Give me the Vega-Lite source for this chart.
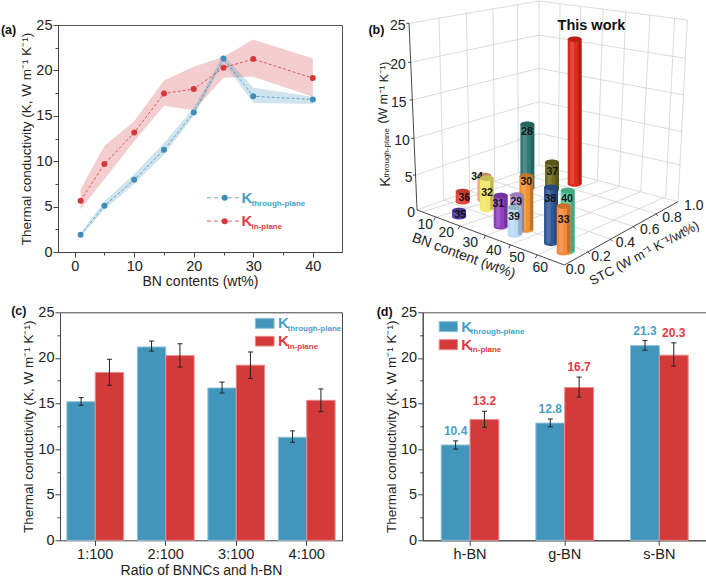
{
"$schema":"https://vega.github.io/schema/vega-lite/v6.json",
"columns":2,"spacing":{"row":59.3,"column":80.7},"bounds":"flush","background":"white",
"padding":{"left":0,"top":0,"right":0,"bottom":0},
"config":{"font":"Liberation Sans","view":{"stroke":null},"axis":{"grid":false,"labelColor":"#222","titleColor":"#222","domainColor":"#444","tickColor":"#444","titleFontWeight":"normal"}},
"datasets":{
"a":[
{"s":"in","x":1,"y":5.65,"lo":4.7,"hi":6.9},{"s":"in","x":5,"y":9.7,"lo":8,"hi":11.7},{"s":"in","x":10,"y":13.15,"lo":12.2,"hi":14.4},{"s":"in","x":15,"y":17.45,"lo":16.1,"hi":18.9},{"s":"in","x":20,"y":17.95,"lo":15.6,"hi":20.4},{"s":"in","x":25,"y":20.3,"lo":19.2,"hi":21.5},{"s":"in","x":30,"y":21.25,"lo":19.3,"hi":23.4},{"s":"in","x":40,"y":19.15,"lo":17.1,"hi":21.3},
{"s":"through","x":1,"y":1.9,"lo":1.7,"hi":2.1},{"s":"through","x":5,"y":5.1,"lo":4.7,"hi":5.6},{"s":"through","x":10,"y":7.95,"lo":7.5,"hi":8.6},{"s":"through","x":15,"y":11.25,"lo":10.7,"hi":12},{"s":"through","x":20,"y":15.35,"lo":15,"hi":15.9},{"s":"through","x":25,"y":21.3,"lo":20.9,"hi":21.7},{"s":"through","x":30,"y":17.15,"lo":16.4,"hi":18.1},{"s":"through","x":40,"y":16.8,"lo":16.3,"hi":17.1}],
"c":[
{"g":"1:100","s":"through","v":15.2,"lo":14.8,"hi":15.65},{"g":"1:100","s":"in","v":18.4,"lo":17,"hi":19.85},
{"g":"2:100","s":"through","v":21.2,"lo":20.75,"hi":21.85},{"g":"2:100","s":"in","v":20.25,"lo":19,"hi":21.55},
{"g":"3:100","s":"through","v":16.7,"lo":16.15,"hi":17.35},{"g":"3:100","s":"in","v":19.2,"lo":17.75,"hi":20.65},
{"g":"4:100","s":"through","v":11.3,"lo":10.75,"hi":12},{"g":"4:100","s":"in","v":15.35,"lo":14.1,"hi":16.6}],
"d":[
{"g":"h-BN","s":"through","v":10.45,"lo":10,"hi":10.9,"lbl":"10.4"},{"g":"h-BN","s":"in","v":13.25,"lo":12.4,"hi":14.15,"lbl":"13.2"},
{"g":"g-BN","s":"through","v":12.85,"lo":12.45,"hi":13.3,"lbl":"12.8"},{"g":"g-BN","s":"in","v":16.75,"lo":15.7,"hi":17.9,"lbl":"16.7"},
{"g":"s-BN","s":"through","v":21.35,"lo":20.85,"hi":21.9,"lbl":"21.3"},{"g":"s-BN","s":"in","v":20.3,"lo":19.1,"hi":21.65,"lbl":"20.3"}],
"grid":[
{"x":171,"y":187,"x2":556,"y2":105},{"x":176,"y":300,"x2":556,"y2":205},{"x":181,"y":415,"x2":556,"y2":305},{"x":186,"y":525,"x2":556,"y2":400},{"x":166,"y":70,"x2":556,"y2":3},
{"x":256,"y":52,"x2":270,"y2":600},{"x":338,"y":37,"x2":348,"y2":572},{"x":418,"y":25,"x2":423,"y2":544},{"x":491,"y":14,"x2":494,"y2":518},{"x":556,"y":3,"x2":556,"y2":495},
{"x":556,"y":3,"x2":1001,"y2":60},{"x":556,"y":105,"x2":996,"y2":175},{"x":556,"y":205,"x2":991,"y2":285},{"x":556,"y":305,"x2":986,"y2":395},{"x":556,"y":400,"x2":980,"y2":495},
{"x":619,"y":12,"x2":613,"y2":507},{"x":681,"y":20,"x2":672,"y2":525},{"x":748,"y":28,"x2":731,"y2":545},{"x":816,"y":37,"x2":796,"y2":560},{"x":889,"y":45,"x2":861,"y2":575},{"x":963,"y":53,"x2":936,"y2":590},{"x":1001,"y":60,"x2":973,"y2":605},
{"x":190,"y":630,"x2":556,"y2":495},{"x":556,"y":495,"x2":973,"y2":605},
{"x":205,"y":636,"x2":613,"y2":507},{"x":245,"y":652,"x2":672,"y2":525},{"x":318,"y":678,"x2":731,"y2":545},{"x":395,"y":707,"x2":796,"y2":560},{"x":470,"y":735,"x2":861,"y2":575},{"x":550,"y":765,"x2":936,"y2":590},
{"x":702,"y":755,"x2":270,"y2":600},{"x":770,"y":717,"x2":348,"y2":572},{"x":838,"y":679,"x2":423,"y2":544},{"x":906,"y":641,"x2":494,"y2":518}],
"edge":[
{"x":166,"y":70,"x2":190,"y2":630},{"x":190,"y":630,"x2":632,"y2":795},{"x":632,"y":795,"x2":973,"y2":605},
{"x":166,"y":70,"x2":158,"y2":70},{"x":171,"y":187,"x2":163,"y2":187},{"x":176,"y":300,"x2":168,"y2":300},{"x":181,"y":415,"x2":173,"y2":415},{"x":186,"y":525,"x2":178,"y2":525},
{"x":245,"y":652,"x2":240,"y2":662},{"x":318,"y":678,"x2":313,"y2":688},{"x":395,"y":707,"x2":390,"y2":717},{"x":470,"y":735,"x2":465,"y2":745},{"x":550,"y":765,"x2":545,"y2":775},
{"x":702,"y":755,"x2":709,"y2":762},{"x":770,"y":717,"x2":777,"y2":724},{"x":838,"y":679,"x2":845,"y2":686},{"x":906,"y":641,"x2":913,"y2":648}],
"cyl":[
{"id":"work","tier":1,"sx":663,"sy":118,"sy2":552,"lab":"","tx":663,"ty":300},
{"id":"28","tier":1,"sx":521,"sy":373,"sy2":565,"lab":"28","tx":520,"ty":395},
{"id":"37","tier":1,"sx":595,"sy":487,"sy2":570,"lab":"37","tx":596,"ty":515},
{"id":"34","tier":1,"sx":392,"sy":527,"sy2":600,"lab":"34","tx":370,"ty":530},
{"id":"36","tier":1,"sx":327,"sy":575,"sy2":605,"lab":"36","tx":332,"ty":593},
{"id":"35","tier":1,"sx":316,"sy":632,"sy2":650,"lab":"35","tx":320,"ty":645},
{"id":"30","tier":2,"sx":518,"sy":528,"sy2":690,"lab":"30","tx":518,"ty":545},
{"id":"32","tier":2,"sx":399,"sy":535,"sy2":628,"lab":"32","tx":400,"ty":580},
{"id":"40","tier":2,"sx":642,"sy":572,"sy2":755,"lab":"40","tx":640,"ty":598},
{"id":"31","tier":2,"sx":441,"sy":587,"sy2":680,"lab":"31","tx":434,"ty":612},
{"id":"29","tier":3,"sx":490,"sy":585,"sy2":695,"lab":"29","tx":488,"ty":605},
{"id":"38","tier":3,"sx":592,"sy":562,"sy2":730,"lab":"38","tx":590,"ty":598},
{"id":"39","tier":4,"sx":483,"sy":622,"sy2":705,"lab":"39","tx":481,"ty":650},
{"id":"33","tier":4,"sx":630,"sy":618,"sy2":758,"lab":"33","tx":630,"ty":660}]
},
"concat":[
{"width":284,"height":227,"view":{"stroke":"#555"},
"resolve":{"axis":{"x":"independent","y":"independent"},"scale":{"color":"independent"}},
"layer":[
{"data":{"name":"a"},"mark":{"type":"area","opacity":0.25},"encoding":{
"x":{"field":"x","type":"quantitative","scale":{"domain":[-2.8,44.9],"nice":false,"zero":false},"axis":{"orient":"bottom","values":[0,10,20,30,40],"title":"BN contents (wt%)","titleFontSize":14,"labelFontSize":14.5,"tickSize":5,"labelPadding":2,"titlePadding":2,"labelFlush":false}},
"y":{"field":"lo","type":"quantitative","scale":{"domain":[0,25],"nice":false},"axis":{"orient":"left","values":[0,5,10,15,20,25],"title":"Thermal conductivity (K, W m⁻¹ K⁻¹)","titleFontSize":13.5,"labelFontSize":14.5,"tickSize":5,"labelPadding":1,"titlePadding":2,"labelFlush":false}},
"y2":{"field":"hi"},
"color":{"field":"s","scale":{"domain":["through","in"],"range":["#4295bb","#d53a3a"]},"legend":null}}},
{"data":{"name":"a"},"mark":{"type":"line","strokeDash":[3,2],"strokeWidth":0.8},"encoding":{
"x":{"field":"x","type":"quantitative","axis":{"orient":"bottom","values":[5,15,25,35,45],"labels":false,"domain":false,"title":null,"tickSize":3}},
"y":{"field":"y","type":"quantitative","axis":{"orient":"left","values":[2.5,7.5,12.5,17.5,22.5],"labels":false,"domain":false,"title":null,"tickSize":3}},
"color":{"field":"s","scale":{"domain":["through","in"],"range":["#4295bb","#d53a3a"]},"legend":null}}},
{"data":{"name":"a"},"mark":{"type":"point","filled":true,"opacity":1,"size":36,"shape":"circle"},"encoding":{
"x":{"field":"x","type":"quantitative","axis":null},"y":{"field":"y","type":"quantitative","axis":null},
"color":{"field":"s","scale":{"domain":["through","in"],"range":["#3f8db4","#d5383c"]},"legend":null}}},
{"data":{"values":[{"s":"through","x":22.2,"x2":27.7,"y":5.97},{"s":"in","x":22.2,"x2":27.7,"y":3.4}]},"mark":{"type":"rule","strokeDash":[4,3],"strokeWidth":0.8},"encoding":{
"x":{"field":"x","type":"quantitative","axis":null},"x2":{"field":"x2"},"y":{"field":"y","type":"quantitative","axis":null},
"color":{"field":"s","scale":{"domain":["through","in"],"range":["#4295bb","#d53a3a"]},"legend":null}}},
{"data":{"values":[{"s":"through","x":25.2,"y":5.97},{"s":"in","x":25.2,"y":3.4}]},"mark":{"type":"point","filled":true,"opacity":1,"size":36},"encoding":{
"x":{"field":"x","type":"quantitative","axis":null},"y":{"field":"y","type":"quantitative","axis":null},
"color":{"field":"s","scale":{"domain":["through","in"],"range":["#3f8db4","#d5383c"]},"legend":null}}},
{"data":{"values":[{"s":"through","x":28,"y":5.97},{"s":"in","x":28,"y":3.4}]},"mark":{"type":"text","text":"K","align":"left","baseline":"middle","fontSize":15,"fontWeight":"bold"},"encoding":{
"x":{"field":"x","type":"quantitative","axis":null},"y":{"field":"y","type":"quantitative","axis":null},
"color":{"field":"s","scale":{"domain":["through","in"],"range":["#46a0c8","#e33b40"]},"legend":null}}},
{"data":{"values":[{"s":"through","x":29.7,"y":5.3,"t":"through-plane"},{"s":"in","x":29.7,"y":2.8,"t":"in-plane"}]},"mark":{"type":"text","align":"left","baseline":"middle","fontSize":8,"fontWeight":"bold"},"encoding":{
"x":{"field":"x","type":"quantitative","axis":null},"y":{"field":"y","type":"quantitative","axis":null},"text":{"field":"t"},
"color":{"field":"s","scale":{"domain":["through","in"],"range":["#46a0c8","#e33b40"]},"legend":null}}},
{"data":{"values":[{"x":-11.1,"y":24.45,"t":"(a)"}]},"mark":{"type":"text","align":"center","baseline":"middle","fontSize":12.5,"fontWeight":"bold","color":"#111"},"encoding":{
"x":{"field":"x","type":"quantitative","axis":null},"y":{"field":"y","type":"quantitative","axis":null},"text":{"field":"t"}}}
]},
{"width":284,"height":228,
"encoding":{"x":{"field":"x","type":"quantitative","scale":{"domain":[207,1059],"nice":false,"zero":false},"axis":null},"y":{"field":"y","type":"quantitative","scale":{"domain":[759,75],"nice":false,"zero":false},"axis":null}},
"layer":[
{"data":{"name":"grid"},"mark":{"type":"rule","color":"#d2d2d2","strokeWidth":0.8},"encoding":{"x2":{"field":"x2"},"y2":{"field":"y2"}}},
{"data":{"name":"edge"},"mark":{"type":"rule","color":"#333","strokeWidth":0.9},"encoding":{"x2":{"field":"x2"},"y2":{"field":"y2"}}},
{"data":{"values":[{"x":132,"y":78,"t":"25"},{"x":133,"y":195,"t":"20"},{"x":135,"y":308,"t":"15"},{"x":145,"y":422,"t":"10"},{"x":165,"y":533,"t":"5"},{"x":172,"y":640,"t":"0"},{"x":215,"y":675,"t":"10"},{"x":278,"y":700,"t":"20"},{"x":350,"y":728,"t":"30"},{"x":420,"y":752,"t":"40"},{"x":490,"y":775,"t":"50"},{"x":560,"y":805,"t":"60"},{"x":665,"y":810,"t":"0.0"},{"x":742,"y":770,"t":"0.2"},{"x":815,"y":728,"t":"0.4"},{"x":888,"y":690,"t":"0.6"},{"x":955,"y":655,"t":"0.8"},{"x":1020,"y":618,"t":"1.0"}]},"mark":{"type":"text","align":"center","baseline":"middle","fontSize":14,"color":"#222"},"encoding":{"text":{"field":"t"}}},
{"data":{"values":[{"x":95,"y":545,"t":"K"}]},"mark":{"type":"text","angle":270,"align":"center","baseline":"middle","fontSize":15,"color":"#222"},"encoding":{"text":{"field":"t"}}},
{"data":{"values":[{"x":101,"y":458,"t":"through-plane"}]},"mark":{"type":"text","angle":270,"align":"center","baseline":"middle","fontSize":8,"color":"#222"},"encoding":{"text":{"field":"t"}}},
{"data":{"values":[{"x":90,"y":278,"t":"(W m⁻¹ K⁻¹)"}]},"mark":{"type":"text","angle":272,"align":"center","baseline":"middle","fontSize":12.5,"color":"#222"},"encoding":{"text":{"field":"t"}}},
{"data":{"values":[{"x":330,"y":768,"t":"BN content (wt%)"}]},"mark":{"type":"text","angle":20,"align":"center","baseline":"middle","fontSize":14,"color":"#222"},"encoding":{"text":{"field":"t"}}},
{"data":{"values":[{"x":872,"y":760,"t":"STC (W m⁻¹ K⁻¹/wt%)"}]},"mark":{"type":"text","angle":332,"align":"center","baseline":"middle","fontSize":13,"color":"#222"},"encoding":{"text":{"field":"t"}}},
{"data":{"values":[{"x":68,"y":90,"t":"(b)"}]},"mark":{"type":"text","align":"center","baseline":"middle","fontSize":12.5,"fontWeight":"bold","color":"#111"},"encoding":{"text":{"field":"t"}}},
{"data":{"values":[{"x":713,"y":78,"t":"This work"}]},"mark":{"type":"text","align":"center","baseline":"middle","fontSize":14.5,"fontWeight":"bold","color":"#111"},"encoding":{"text":{"field":"t"}}},
{"data":{"name":"cyl"},"transform":[{"filter":"datum.tier==1"}],
"encoding":{"x":{"field":"sx","type":"quantitative"},"color":{"field":"id","type":"nominal","legend":null,"scale":{"domain":["work","28","37","34","36","35","30","32","40","31","29","38","39","33"],"range":["#e0291b","#2f7a78","#6e6a20","#f4a57e","#e8473f","#5a3fb0","#f09233","#f2e86a","#58cfa0","#8e3fc0","#c69ae8","#2f5896","#b8dcf5","#f58a3c"]}}},
"layer":[
{"mark":{"type":"point","filled":true,"opacity":1,"size":196,"shape":"M-1,0A1,0.4 0 1 1 1,0A1,0.4 0 1 1 -1,0Z"},"encoding":{"y":{"field":"sy2","type":"quantitative"}}},
{"mark":{"type":"rule","strokeWidth":14},"encoding":{"y":{"field":"sy","type":"quantitative"},"y2":{"field":"sy2"}}},
{"mark":{"type":"rule","strokeWidth":3.5,"xOffset":5.2,"opacity":0.2},"encoding":{"y":{"field":"sy","type":"quantitative"},"y2":{"field":"sy2"},"color":{"value":"#000"}}},
{"mark":{"type":"rule","strokeWidth":4,"xOffset":-2.5,"opacity":0.15},"encoding":{"y":{"field":"sy","type":"quantitative"},"y2":{"field":"sy2"},"color":{"value":"#fff"}}},
{"mark":{"type":"point","filled":true,"opacity":1,"size":196,"shape":"M-1,0A1,0.4 0 1 1 1,0A1,0.4 0 1 1 -1,0Z"},"encoding":{"y":{"field":"sy","type":"quantitative"}}},
{"mark":{"type":"point","filled":true,"opacity":0.18,"size":196,"shape":"M-1,0A1,0.4 0 1 1 1,0A1,0.4 0 1 1 -1,0Z"},"encoding":{"y":{"field":"sy","type":"quantitative"},"color":{"value":"#000"}}},
{"mark":{"type":"text","fontSize":10.5,"fontWeight":"bold","align":"center","baseline":"middle"},"encoding":{"x":{"field":"tx","type":"quantitative"},"y":{"field":"ty","type":"quantitative"},"text":{"field":"lab"},"color":{"value":"#111"}}}
]},
{"data":{"name":"cyl"},"transform":[{"filter":"datum.tier==2"}],
"encoding":{"x":{"field":"sx","type":"quantitative"},"color":{"field":"id","type":"nominal","legend":null}},
"layer":[
{"mark":{"type":"point","filled":true,"opacity":1,"size":196,"shape":"M-1,0A1,0.4 0 1 1 1,0A1,0.4 0 1 1 -1,0Z"},"encoding":{"y":{"field":"sy2","type":"quantitative"}}},
{"mark":{"type":"rule","strokeWidth":14},"encoding":{"y":{"field":"sy","type":"quantitative"},"y2":{"field":"sy2"}}},
{"mark":{"type":"rule","strokeWidth":3.5,"xOffset":5.2,"opacity":0.2},"encoding":{"y":{"field":"sy","type":"quantitative"},"y2":{"field":"sy2"},"color":{"value":"#000"}}},
{"mark":{"type":"rule","strokeWidth":4,"xOffset":-2.5,"opacity":0.15},"encoding":{"y":{"field":"sy","type":"quantitative"},"y2":{"field":"sy2"},"color":{"value":"#fff"}}},
{"mark":{"type":"point","filled":true,"opacity":1,"size":196,"shape":"M-1,0A1,0.4 0 1 1 1,0A1,0.4 0 1 1 -1,0Z"},"encoding":{"y":{"field":"sy","type":"quantitative"}}},
{"mark":{"type":"point","filled":true,"opacity":0.18,"size":196,"shape":"M-1,0A1,0.4 0 1 1 1,0A1,0.4 0 1 1 -1,0Z"},"encoding":{"y":{"field":"sy","type":"quantitative"},"color":{"value":"#000"}}},
{"mark":{"type":"text","fontSize":10.5,"fontWeight":"bold","align":"center","baseline":"middle"},"encoding":{"x":{"field":"tx","type":"quantitative"},"y":{"field":"ty","type":"quantitative"},"text":{"field":"lab"},"color":{"value":"#111"}}}
]},
{"data":{"name":"cyl"},"transform":[{"filter":"datum.tier==3"}],
"encoding":{"x":{"field":"sx","type":"quantitative"},"color":{"field":"id","type":"nominal","legend":null}},
"layer":[
{"mark":{"type":"point","filled":true,"opacity":1,"size":196,"shape":"M-1,0A1,0.4 0 1 1 1,0A1,0.4 0 1 1 -1,0Z"},"encoding":{"y":{"field":"sy2","type":"quantitative"}}},
{"mark":{"type":"rule","strokeWidth":14},"encoding":{"y":{"field":"sy","type":"quantitative"},"y2":{"field":"sy2"}}},
{"mark":{"type":"rule","strokeWidth":3.5,"xOffset":5.2,"opacity":0.2},"encoding":{"y":{"field":"sy","type":"quantitative"},"y2":{"field":"sy2"},"color":{"value":"#000"}}},
{"mark":{"type":"rule","strokeWidth":4,"xOffset":-2.5,"opacity":0.15},"encoding":{"y":{"field":"sy","type":"quantitative"},"y2":{"field":"sy2"},"color":{"value":"#fff"}}},
{"mark":{"type":"point","filled":true,"opacity":1,"size":196,"shape":"M-1,0A1,0.4 0 1 1 1,0A1,0.4 0 1 1 -1,0Z"},"encoding":{"y":{"field":"sy","type":"quantitative"}}},
{"mark":{"type":"point","filled":true,"opacity":0.18,"size":196,"shape":"M-1,0A1,0.4 0 1 1 1,0A1,0.4 0 1 1 -1,0Z"},"encoding":{"y":{"field":"sy","type":"quantitative"},"color":{"value":"#000"}}},
{"mark":{"type":"text","fontSize":10.5,"fontWeight":"bold","align":"center","baseline":"middle"},"encoding":{"x":{"field":"tx","type":"quantitative"},"y":{"field":"ty","type":"quantitative"},"text":{"field":"lab"},"color":{"value":"#111"}}}
]},
{"data":{"name":"cyl"},"transform":[{"filter":"datum.tier==4"}],
"encoding":{"x":{"field":"sx","type":"quantitative"},"color":{"field":"id","type":"nominal","legend":null}},
"layer":[
{"mark":{"type":"point","filled":true,"opacity":1,"size":196,"shape":"M-1,0A1,0.4 0 1 1 1,0A1,0.4 0 1 1 -1,0Z"},"encoding":{"y":{"field":"sy2","type":"quantitative"}}},
{"mark":{"type":"rule","strokeWidth":14},"encoding":{"y":{"field":"sy","type":"quantitative"},"y2":{"field":"sy2"}}},
{"mark":{"type":"rule","strokeWidth":3.5,"xOffset":5.2,"opacity":0.2},"encoding":{"y":{"field":"sy","type":"quantitative"},"y2":{"field":"sy2"},"color":{"value":"#000"}}},
{"mark":{"type":"rule","strokeWidth":4,"xOffset":-2.5,"opacity":0.15},"encoding":{"y":{"field":"sy","type":"quantitative"},"y2":{"field":"sy2"},"color":{"value":"#fff"}}},
{"mark":{"type":"point","filled":true,"opacity":1,"size":196,"shape":"M-1,0A1,0.4 0 1 1 1,0A1,0.4 0 1 1 -1,0Z"},"encoding":{"y":{"field":"sy","type":"quantitative"}}},
{"mark":{"type":"point","filled":true,"opacity":0.18,"size":196,"shape":"M-1,0A1,0.4 0 1 1 1,0A1,0.4 0 1 1 -1,0Z"},"encoding":{"y":{"field":"sy","type":"quantitative"},"color":{"value":"#000"}}},
{"mark":{"type":"text","fontSize":10.5,"fontWeight":"bold","align":"center","baseline":"middle"},"encoding":{"x":{"field":"tx","type":"quantitative"},"y":{"field":"ty","type":"quantitative"},"text":{"field":"lab"},"color":{"value":"#111"}}}
]}
]},
{"width":284,"height":228,
"resolve":{"axis":{"x":"independent","y":"independent"},"scale":{"x":"independent","xOffset":"independent","color":"independent","stroke":"independent"}},
"layer":[
{"data":{"name":"c"},"mark":{"type":"bar","strokeWidth":1},"encoding":{
"x":{"field":"g","type":"nominal","scale":{"type":"band","domain":["1:100","2:100","3:100","4:100"],"range":[2,284],"paddingInner":0.195,"paddingOuter":0.0977},"axis":{"orient":"bottom","title":"Ratio of BNNCs and h-BN","labelAngle":0,"titleFontSize":14,"labelFontSize":14.5,"tickSize":5,"labelPadding":2,"titlePadding":3}},
"xOffset":{"field":"s","scale":{"domain":["through","in"]}},
"y":{"field":"v","type":"quantitative","scale":{"domain":[0,25],"nice":false},"axis":{"orient":"left","offset":-2,"values":[0,5,10,15,20,25],"title":"Thermal conductivity (K, W m⁻¹ K⁻¹)","titleFontSize":13.5,"labelFontSize":14.5,"tickSize":5,"labelPadding":1,"titlePadding":2,"labelFlush":false}},
"color":{"field":"s","scale":{"domain":["through","in"],"range":["#4295bb","#d53a3a"]},"legend":null},
"stroke":{"field":"s","scale":{"domain":["through","in"],"range":["#8fc3da","#ea8a8a"]},"legend":null}}},
{"data":{"name":"c"},"mark":{"type":"rule","color":"#222","strokeWidth":1},"encoding":{
"x":{"field":"g","type":"nominal","scale":{"type":"band","domain":["1:100","2:100","3:100","4:100"],"range":[2,284],"paddingInner":0.195,"paddingOuter":0.0977},"axis":{"orient":"top","title":null,"labels":false,"ticks":false}},
"xOffset":{"field":"s","scale":{"domain":["through","in"]}},
"y":{"field":"lo","type":"quantitative","axis":{"orient":"left","offset":-2,"values":[2.5,7.5,12.5,17.5,22.5],"labels":false,"domain":false,"title":null,"tickSize":3}},"y2":{"field":"hi"}}},
{"data":{"name":"c"},"mark":{"type":"tick","orient":"horizontal","size":5,"thickness":1,"color":"#222","opacity":1},"encoding":{
"x":{"field":"g","type":"nominal","scale":{"type":"band","domain":["1:100","2:100","3:100","4:100"],"range":[2,284],"paddingInner":0.195,"paddingOuter":0.0977},"axis":null},
"xOffset":{"field":"s","scale":{"domain":["through","in"]}},
"y":{"field":"lo","type":"quantitative","axis":{"orient":"right","title":null,"labels":false,"ticks":false}}}},
{"data":{"name":"c"},"mark":{"type":"tick","orient":"horizontal","size":5,"thickness":1,"color":"#222","opacity":1},"encoding":{
"x":{"field":"g","type":"nominal","scale":{"type":"band","domain":["1:100","2:100","3:100","4:100"],"range":[2,284],"paddingInner":0.195,"paddingOuter":0.0977},"axis":null},
"xOffset":{"field":"s","scale":{"domain":["through","in"]}},
"y":{"field":"hi","type":"quantitative","axis":null}}},
{"data":{"values":[{"s":"through","x":0.695,"x2":0.761,"y":24.34,"y2":23.24},{"s":"in","x":0.695,"x2":0.761,"y":22.37,"y2":21.3}]},"mark":{"type":"rect","strokeWidth":1},"encoding":{
"x":{"field":"x","type":"quantitative","scale":{"domain":[0,1],"nice":false},"axis":null},"x2":{"field":"x2"},"y":{"field":"y","type":"quantitative","axis":null},"y2":{"field":"y2"},
"color":{"field":"s","scale":{"domain":["through","in"],"range":["#4295bb","#d53a3a"]},"legend":null},
"stroke":{"field":"s","scale":{"domain":["through","in"],"range":["#8fc3da","#ea8a8a"]},"legend":null}}},
{"data":{"values":[{"s":"through","x":0.775,"y":23.8},{"s":"in","x":0.775,"y":21.85}]},"mark":{"type":"text","text":"K","align":"left","baseline":"middle","fontSize":15,"fontWeight":"bold"},"encoding":{
"x":{"field":"x","type":"quantitative","scale":{"domain":[0,1],"nice":false},"axis":null},"y":{"field":"y","type":"quantitative","axis":null},
"color":{"field":"s","scale":{"domain":["through","in"],"range":["#46a0c8","#e33b40"]},"legend":null}}},
{"data":{"values":[{"s":"through","x":0.808,"y":23.17,"t":"through-plane"},{"s":"in","x":0.808,"y":21.2,"t":"in-plane"}]},"mark":{"type":"text","align":"left","baseline":"middle","fontSize":8,"fontWeight":"bold"},"encoding":{
"x":{"field":"x","type":"quantitative","scale":{"domain":[0,1],"nice":false},"axis":null},"y":{"field":"y","type":"quantitative","axis":null},"text":{"field":"t"},
"color":{"field":"s","scale":{"domain":["through","in"],"range":["#46a0c8","#e33b40"]},"legend":null}}},
{"data":{"values":[{"x":-0.138,"y":25.14,"t":"(c)"}]},"mark":{"type":"text","align":"center","baseline":"middle","fontSize":12.5,"fontWeight":"bold","color":"#111"},"encoding":{
"x":{"field":"x","type":"quantitative","scale":{"domain":[0,1],"nice":false},"axis":null},"y":{"field":"y","type":"quantitative","axis":null},"text":{"field":"t"}}}
]},
{"width":284,"height":228,"view":{"stroke":"#555"},
"resolve":{"axis":{"x":"independent","y":"independent"},"scale":{"x":"independent","xOffset":"independent","color":"independent","stroke":"independent"}},
"layer":[
{"data":{"name":"d"},"mark":{"type":"bar","strokeWidth":1},"encoding":{
"x":{"field":"g","type":"nominal","scale":{"type":"band","domain":["h-BN","g-BN","s-BN"],"paddingInner":0.391,"paddingOuter":0.1955},"axis":{"orient":"bottom","title":null,"labelAngle":0,"labelFontSize":14.5,"tickSize":5,"labelPadding":2}},
"xOffset":{"field":"s","scale":{"domain":["through","in"]}},
"y":{"field":"v","type":"quantitative","scale":{"domain":[0,25],"nice":false},"axis":{"orient":"left","values":[0,5,10,15,20,25],"title":"Thermal conductivity (K, W m⁻¹ K⁻¹)","titleFontSize":13.5,"labelFontSize":14.5,"tickSize":5,"labelPadding":1,"titlePadding":2,"labelFlush":false}},
"color":{"field":"s","scale":{"domain":["through","in"],"range":["#4295bb","#d53a3a"]},"legend":null},
"stroke":{"field":"s","scale":{"domain":["through","in"],"range":["#8fc3da","#ea8a8a"]},"legend":null}}},
{"data":{"name":"d"},"mark":{"type":"rule","color":"#222","strokeWidth":1},"encoding":{
"x":{"field":"g","type":"nominal","scale":{"type":"band","domain":["h-BN","g-BN","s-BN"],"paddingInner":0.391,"paddingOuter":0.1955},"axis":null},
"xOffset":{"field":"s","scale":{"domain":["through","in"]}},
"y":{"field":"lo","type":"quantitative","axis":{"orient":"left","values":[2.5,7.5,12.5,17.5,22.5],"labels":false,"domain":false,"title":null,"tickSize":3}},"y2":{"field":"hi"}}},
{"data":{"name":"d"},"mark":{"type":"tick","orient":"horizontal","size":5,"thickness":1,"color":"#222","opacity":1},"encoding":{
"x":{"field":"g","type":"nominal","scale":{"type":"band","domain":["h-BN","g-BN","s-BN"],"paddingInner":0.391,"paddingOuter":0.1955},"axis":null},
"xOffset":{"field":"s","scale":{"domain":["through","in"]}},
"y":{"field":"lo","type":"quantitative","axis":null}}},
{"data":{"name":"d"},"mark":{"type":"tick","orient":"horizontal","size":5,"thickness":1,"color":"#222","opacity":1},"encoding":{
"x":{"field":"g","type":"nominal","scale":{"type":"band","domain":["h-BN","g-BN","s-BN"],"paddingInner":0.391,"paddingOuter":0.1955},"axis":null},
"xOffset":{"field":"s","scale":{"domain":["through","in"]}},
"y":{"field":"hi","type":"quantitative","axis":null}}},
{"data":{"name":"d"},"mark":{"type":"text","baseline":"bottom","align":"center","dy":-3,"fontSize":12,"fontWeight":"bold"},"encoding":{
"x":{"field":"g","type":"nominal","scale":{"type":"band","domain":["h-BN","g-BN","s-BN"],"paddingInner":0.391,"paddingOuter":0.1955},"axis":null},
"xOffset":{"field":"s","scale":{"domain":["through","in"]}},
"y":{"field":"hi","type":"quantitative","axis":null},"text":{"field":"lbl"},
"color":{"field":"s","scale":{"domain":["through","in"],"range":["#46a0c8","#e33b40"]},"legend":null}}},
{"data":{"values":[{"s":"through","x":0.058,"x2":0.1225,"y":23.98,"y2":22.88},{"s":"in","x":0.058,"x2":0.1225,"y":22,"y2":20.9}]},"mark":{"type":"rect","strokeWidth":1},"encoding":{
"x":{"field":"x","type":"quantitative","scale":{"domain":[0,1],"nice":false},"axis":null},"x2":{"field":"x2"},"y":{"field":"y","type":"quantitative","axis":null},"y2":{"field":"y2"},
"color":{"field":"s","scale":{"domain":["through","in"],"range":["#4295bb","#d53a3a"]},"legend":null},
"stroke":{"field":"s","scale":{"domain":["through","in"],"range":["#8fc3da","#ea8a8a"]},"legend":null}}},
{"data":{"values":[{"s":"through","x":0.1355,"y":23.43},{"s":"in","x":0.1355,"y":21.45}]},"mark":{"type":"text","text":"K","align":"left","baseline":"middle","fontSize":15,"fontWeight":"bold"},"encoding":{
"x":{"field":"x","type":"quantitative","scale":{"domain":[0,1],"nice":false},"axis":null},"y":{"field":"y","type":"quantitative","axis":null},
"color":{"field":"s","scale":{"domain":["through","in"],"range":["#46a0c8","#e33b40"]},"legend":null}}},
{"data":{"values":[{"s":"through","x":0.1687,"y":22.8,"t":"through-plane"},{"s":"in","x":0.1687,"y":20.87,"t":"in-plane"}]},"mark":{"type":"text","align":"left","baseline":"middle","fontSize":8,"fontWeight":"bold"},"encoding":{
"x":{"field":"x","type":"quantitative","scale":{"domain":[0,1],"nice":false},"axis":null},"y":{"field":"y","type":"quantitative","axis":null},"text":{"field":"t"},
"color":{"field":"s","scale":{"domain":["through","in"],"range":["#46a0c8","#e33b40"]},"legend":null}}},
{"data":{"values":[{"x":-0.134,"y":25.08,"t":"(d)"}]},"mark":{"type":"text","align":"center","baseline":"middle","fontSize":12.5,"fontWeight":"bold","color":"#111"},"encoding":{
"x":{"field":"x","type":"quantitative","scale":{"domain":[0,1],"nice":false},"axis":null},"y":{"field":"y","type":"quantitative","axis":null},"text":{"field":"t"}}}
]}
]}
